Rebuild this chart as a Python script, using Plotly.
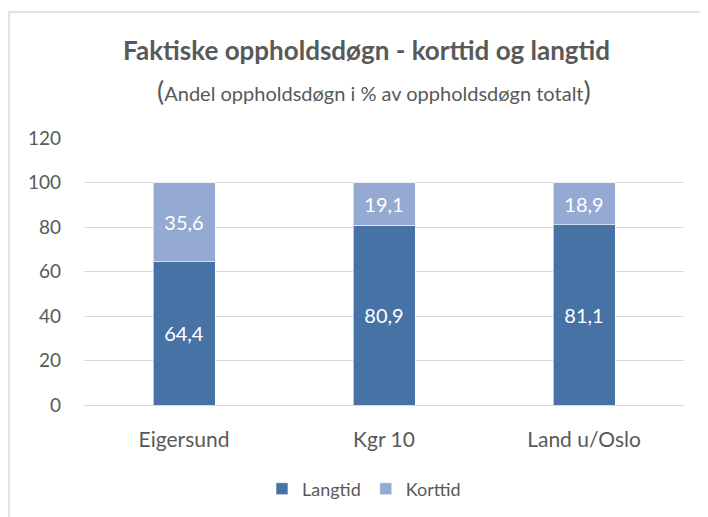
import plotly.graph_objects as go

categories = ["Eigersund", "Kgr 10", "Land u/Oslo"]
langtid = [64.4, 80.9, 81.1]
korttid = [35.6, 19.1, 18.9]
y_ticks = [0, 20, 40, 60, 80, 100, 120]

FONT = "Lato"
GREY = "#595959"
C_LANG = "#4672A6"
C_KORT = "#94AAD2"

def fmt(v):
    return f"{v:.1f}".replace(".", ",")

fig = go.Figure()
fig.add_bar(name="Langtid", x=categories, y=langtid, marker=dict(color=C_LANG, line=dict(color="white", width=0.6)),
            text=[fmt(v) for v in langtid], textposition="inside", insidetextanchor="middle",
            textfont=dict(color="white", size=20, family=FONT), width=0.31)
fig.add_bar(name="Korttid", x=categories, y=korttid, marker=dict(color=C_KORT, line=dict(color="white", width=0.6)),
            text=[fmt(v) for v in korttid], textposition="inside", insidetextanchor="middle",
            textfont=dict(color="white", size=20, family=FONT), width=0.31)

# page has an 8px body offset; work in target-screen coordinates and subtract it
OFF = 8
W, H = 708 - OFF, 517 - OFF
L, T = 84 - OFF, 138 - OFF
R = W - (684 - OFF)
B = H - (405 - OFF)
pw, ph = W - L - R, H - T - B

def px(x):
    return (x - OFF - L) / pw

def py(y):
    return (H - B - (y - OFF)) / ph

fig.update_layout(
    width=W, height=H, barmode="stack",
    margin=dict(l=L, r=R, t=T, b=B, autoexpand=False),
    paper_bgcolor="white", plot_bgcolor="white",
    font=dict(family=FONT, color=GREY),
    showlegend=True,
    legend=dict(orientation="h", x=px(364), xanchor="center", y=py(489), yanchor="middle",
                font=dict(size=18, color=GREY, family=FONT), traceorder="normal", itemwidth=30),
    xaxis=dict(showgrid=False, showline=False, ticks="", tickfont=dict(size=21, color=GREY),
               ticklabelstandoff=20, automargin=False),
    yaxis=dict(range=[0, 120], tickvals=y_ticks, showgrid=True, gridcolor="#d9d9d9", gridwidth=1,
               zeroline=True, zerolinecolor="#d9d9d9", zerolinewidth=1, showline=False,
               tickfont=dict(size=19, color=GREY), ticklabelstandoff=22, automargin=False),
    shapes=[dict(type="rect", xref="paper", yref="paper", x0=px(9), x1=px(760), y0=py(560), y1=py(12),
                 line=dict(color="#d9d9d9", width=1.5), fillcolor="rgba(0,0,0,0)", layer="below")],
    annotations=[
        dict(text="<b>Faktiske oppholdsdøgn - korttid og langtid</b>", xref="paper", yref="paper",
             x=px(366), y=py(50), xanchor="center", yanchor="middle", showarrow=False,
             font=dict(size=26, color=GREY, family=FONT)),
        dict(text="<span style='font-size:27px'>(</span>Andel oppholdsdøgn i % av oppholdsdøgn totalt<span style='font-size:27px'>)</span>",
             xref="paper", yref="paper", x=px(374), y=py(90), xanchor="center", yanchor="middle",
             showarrow=False, font=dict(size=20, color=GREY, family=FONT)),
    ],
)

fig.write_html("out.html")
